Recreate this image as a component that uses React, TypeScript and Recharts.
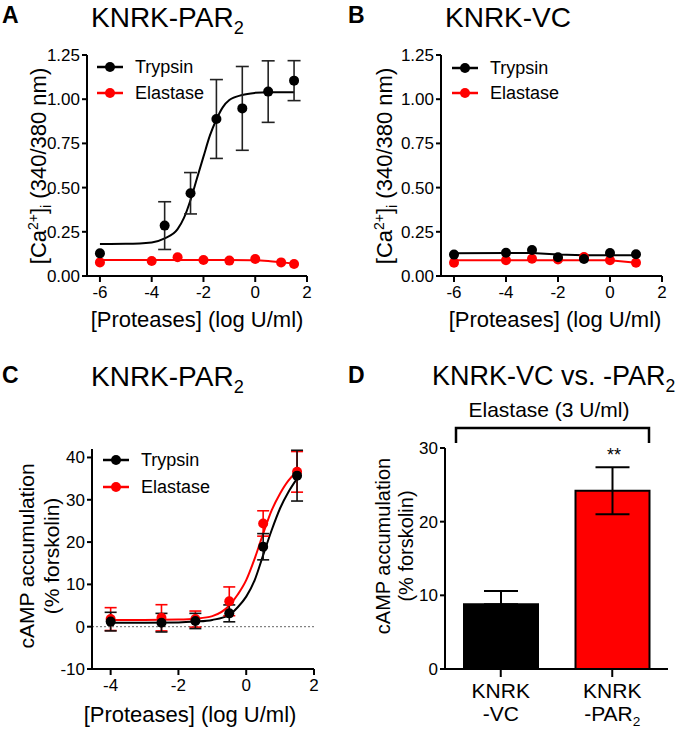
import React from "react";
import {
  ComposedChart,
  Line,
  Scatter,
  ErrorBar,
  XAxis,
  YAxis,
  ReferenceLine,
  BarChart,
  Bar,
  Cell,
} from "recharts";

const FONT = '"Liberation Sans", Arial, Helvetica, sans-serif';
const RED = "#ff0000";
const BLACK = "#000000";

const seriesNames = ["Trypsin", "Elastase"];

// A: KNRK-PAR2, [Ca2+]i
const aTrypDose = [-6, -3.5, -2.5, -1.5, -0.5, 0.5, 1.5];
const aTrypMean = [0.128, 0.285, 0.468, 0.888, 0.948, 1.043, 1.105];
const aTrypSem = [0, 0.135, 0.117, 0.223, 0.237, 0.174, 0.113];
const aElaDose = [-6, -4, -3, -2, -1, 0, 1, 1.5];
const aElaMean = [0.077, 0.085, 0.106, 0.09, 0.087, 0.096, 0.077, 0.068];
const aTrypFitX = [-6, -5, -4, -3.5, -3, -2.75, -2.5, -2.25, -2, -1.75, -1.5, -1.25, -1, -0.5, 0, 0.5, 1, 1.5];
const aTrypFitY = [0.181, 0.182, 0.19, 0.213, 0.265, 0.33, 0.43, 0.553, 0.675, 0.795, 0.885, 0.955, 0.995, 1.024, 1.036, 1.04, 1.04, 1.04];
const aElaFitX = [-6, -4, -2, -1, 0, 0.5, 1, 1.5];
const aElaFitY = [0.09, 0.09, 0.09, 0.09, 0.089, 0.085, 0.078, 0.07];

// B: KNRK-VC, [Ca2+]i
const bDose = [-6, -4, -3, -2, -1, 0, 1];
const bTrypMean = [0.121, 0.132, 0.147, 0.106, 0.096, 0.13, 0.123];
const bElaMean = [0.075, 0.089, 0.098, 0.094, 0.107, 0.089, 0.075];
const bTrypLine = [0.128, 0.13, 0.13, 0.121, 0.117, 0.117, 0.117];
const bElaLine = [0.089, 0.089, 0.089, 0.089, 0.089, 0.089, 0.075];

// C: KNRK-PAR2, cAMP
const cDose = [-4, -2.5, -1.5, -0.5, 0.5, 1.5];
const cTrypMean = [1.2, 0.95, 1.35, 3.15, 18.9, 35.7];
const cTrypSem = [2.2, 2.2, 1.8, 2.0, 3.1, 6.0];
const cElaMean = [1.8, 2.1, 1.8, 6.0, 24.4, 36.6];
const cElaSem = [2.7, 3.1, 1.9, 3.4, 3.0, 4.8];
const cFitX = [-4, -3, -2, -1.5, -1, -0.5, -0.25, 0, 0.25, 0.5, 0.75, 1, 1.25, 1.5];
const cTrypFit = [0.95, 0.95, 1.0, 1.2, 1.6, 2.8, 4.6, 7.1, 11, 16.9, 22.8, 28, 31.9, 35.0];
const cElaFit = [1.6, 1.6, 1.7, 1.9, 2.5, 5.0, 7.6, 11, 16.1, 22, 27.5, 31.5, 34.6, 36.6];

// D: KNRK-VC vs -PAR2, elastase 3 U/ml
const dCells = ["KNRK\n-VC", "KNRK\n-PAR2"];
const dMean = [8.8, 24.2];
const dErr = [[0, 1.8], [3.2, 3.2]];
const dColors = [BLACK, RED];

const caTicks = [0, 0.25, 0.5, 0.75, 1, 1.25];
const logTicksAB = [-6, -4, -2, 0, 2];
const logTicksC = [-4, -2, 0, 2];
const campTicksC = [-10, 0, 10, 20, 30, 40];
const campTicksD = [0, 10, 20, 30];

const zip = (xs: number[], ys: number[], es?: number[]) =>
  xs.map((x, i) => ({ x, y: ys[i], err: es ? es[i] : undefined }));

const axisLine = { stroke: BLACK, strokeWidth: 2 };
const tickStyle = { fill: BLACK, fontSize: 17, fontFamily: FONT };

const dotShape = (color: string) => (props: any) =>
  <circle cx={props.cx} cy={props.cy} r={5} fill={color} />;

const withSub = (s: string, size: number) => {
  const m = s.match(/^(.*PAR)2$/);
  if (!m) return s;
  return (
    <>
      {m[1]}
      <tspan dy={size * 0.25} fontSize={size * 0.65}>2</tspan>
    </>
  );
};

const BarTick = (props: any) => {
  const { x, y, payload } = props;
  const [l1, l2] = String(payload.value).split("\n");
  return (
    <g>
      <text x={x} y={y + 19} textAnchor="middle" fontSize={21} fontFamily={FONT} fill={BLACK}>
        {l1}
      </text>
      <text x={x} y={y + 42} textAnchor="middle" fontSize={21} fontFamily={FONT} fill={BLACK}>
        {withSub(l2, 21)}
      </text>
    </g>
  );
};

const LegendRow = ({ x, y, color, label }: { x: number; y: number; color: string; label: string }) => (
  <g>
    <line x1={x} x2={x + 26} y1={y} y2={y} stroke={color} strokeWidth={2.5} />
    <circle cx={x + 13} cy={y} r={5} fill={color} />
    <text x={x + 38} y={y} dominantBaseline="central" fontSize={18} fontFamily={FONT} fill={BLACK}>
      {label}
    </text>
  </g>
);

function CaPanel(props: {
  left: number;
  yWidth: number;
  width: number;
  tryp: any[];
  ela: any[];
  trypFit: any[];
  elaFit: any[];
  lineType: "monotone" | "linear";
}) {
  const { left, yWidth, width, tryp, ela, trypFit, elaFit, lineType } = props;
  return (
    <div style={{ position: "absolute", left, top: 0 }}>
      <ComposedChart width={width} height={310} margin={{ top: 55, right: 23, bottom: 0, left: 0 }}>
        <XAxis
          type="number"
          dataKey="x"
          domain={[-6.5, 2]}
          ticks={logTicksAB}
          allowDataOverflow
          height={34}
          axisLine={axisLine}
          tickLine={axisLine}
          tickSize={6}
          tickMargin={4}
          tick={tickStyle}
        />
        <YAxis
          type="number"
          dataKey="y"
          domain={[0, 1.25]}
          ticks={caTicks}
          allowDataOverflow
          width={yWidth}
          axisLine={axisLine}
          tickLine={axisLine}
          tickSize={5}
          tickMargin={2}
          tick={tickStyle}
          tickFormatter={(v: number) => v.toFixed(2)}
        />
        <Line data={elaFit} dataKey="y" type={lineType} stroke={RED} strokeWidth={2} dot={false} isAnimationActive={false} />
        <Line data={trypFit} dataKey="y" type={lineType} stroke={BLACK} strokeWidth={2} dot={false} isAnimationActive={false} />
        <Scatter data={ela} dataKey="y" shape={dotShape(RED)} isAnimationActive={false} />
        <Scatter data={tryp} dataKey="y" shape={dotShape(BLACK)} isAnimationActive={false}>
          <ErrorBar dataKey="err" direction="y" width={6.5} stroke="#222" strokeWidth={1.6} />
        </Scatter>
      </ComposedChart>
    </div>
  );
}

function CampPanel() {
  const tryp = zip(cDose, cTrypMean, cTrypSem);
  const ela = zip(cDose, cElaMean, cElaSem);
  return (
    <div style={{ position: "absolute", left: 0, top: 360 }}>
      <ComposedChart width={330} height={340} margin={{ top: 89, right: 16, bottom: 0, left: 0 }}>
        <XAxis
          type="number"
          dataKey="x"
          domain={[-4.55, 2]}
          ticks={logTicksC}
          allowDataOverflow
          height={31}
          axisLine={axisLine}
          tickLine={axisLine}
          tickSize={6}
          tickMargin={4}
          tick={tickStyle}
        />
        <YAxis
          type="number"
          dataKey="y"
          domain={[-10, 42]}
          ticks={campTicksC}
          allowDataOverflow
          width={92}
          axisLine={axisLine}
          tickLine={axisLine}
          tickSize={5}
          tickMargin={2}
          tick={tickStyle}
        />
        <ReferenceLine y={0} stroke="#666" strokeWidth={1} strokeDasharray="2 2" />
        <Line data={zip(cFitX, cElaFit)} dataKey="y" type="monotone" stroke={RED} strokeWidth={2} dot={false} isAnimationActive={false} />
        <Line data={zip(cFitX, cTrypFit)} dataKey="y" type="monotone" stroke={BLACK} strokeWidth={2} dot={false} isAnimationActive={false} />
        <Scatter data={ela} dataKey="y" shape={dotShape(RED)} isAnimationActive={false}>
          <ErrorBar dataKey="err" direction="y" width={6} stroke={RED} strokeWidth={1.6} />
        </Scatter>
        <Scatter data={tryp} dataKey="y" shape={dotShape(BLACK)} isAnimationActive={false}>
          <ErrorBar dataKey="err" direction="y" width={6} stroke="#111" strokeWidth={1.6} />
        </Scatter>
      </ComposedChart>
    </div>
  );
}

function BarPanel() {
  const data = dCells.map((name, i) => ({ name, value: dMean[i], err: dErr[i] }));
  return (
    <div style={{ position: "absolute", left: 345, top: 360 }}>
      <BarChart width={345} height={372} data={data} margin={{ top: 88, right: 22, bottom: 0, left: 0 }}>
        <XAxis
          dataKey="name"
          height={63}
          axisLine={axisLine}
          tickLine={axisLine}
          tickSize={8}
          tickMargin={2}
          tick={<BarTick />}
          interval={0}
        />
        <YAxis
          type="number"
          domain={[0, 30]}
          ticks={campTicksD}
          allowDataOverflow
          width={100}
          axisLine={axisLine}
          tickLine={axisLine}
          tickSize={5}
          tickMargin={2}
          tick={tickStyle}
        />
        <Bar dataKey="value" barSize={74} stroke={BLACK} strokeWidth={2} isAnimationActive={false}>
          {data.map((_, i) => (
            <Cell key={i} fill={dColors[i]} />
          ))}
          <ErrorBar dataKey="err" direction="y" width={17} stroke={BLACK} strokeWidth={2} />
        </Bar>
      </BarChart>
    </div>
  );
}

function Labels() {
  const t = { fontFamily: FONT, fill: BLACK };
  const xLabel = "[Proteases] (log U/ml)";
  return (
    <svg width={693} height={732} style={{ position: "absolute", left: 0, top: 0, pointerEvents: "none" }}>
      {/* panel letters & titles */}
      <text x={2} y={23} fontSize={23} fontWeight="bold" {...t}>A</text>
      <text x={91} y={27} fontSize={28} {...t}>{withSub("KNRK-PAR2", 28)}</text>
      <text x={348} y={23} fontSize={23} fontWeight="bold" {...t}>B</text>
      <text x={445} y={27} fontSize={28} {...t}>KNRK-VC</text>
      <text x={2} y={383} fontSize={23} fontWeight="bold" {...t}>C</text>
      <text x={91} y={386} fontSize={28} {...t}>{withSub("KNRK-PAR2", 28)}</text>
      <text x={348} y={383} fontSize={23} fontWeight="bold" {...t}>D</text>
      <text x={432} y={385} fontSize={27} {...t}>{withSub("KNRK-VC vs. -PAR2", 27)}</text>
      <text x={549} y={417} fontSize={21} textAnchor="middle" {...t}>Elastase (3 U/ml)</text>

      {/* y labels */}
      {[46, 392].map((bx) => (
        <text key={bx} transform={`translate(${bx},166) rotate(-90)`} textAnchor="middle" fontSize={22} {...t}>
          [Ca<tspan dy={-8} fontSize={14}>2+</tspan>
          <tspan dy={8}>]</tspan>
          <tspan dy={5} fontSize={14}>i</tspan>
          <tspan dy={-5}> (340/380 nm)</tspan>
        </text>
      ))}
      <text transform="translate(34,556) rotate(-90)" textAnchor="middle" fontSize={21} {...t}>cAMP accumulation</text>
      <text transform="translate(59,556) rotate(-90)" textAnchor="middle" fontSize={21} {...t}>(% forskolin)</text>
      <text transform="translate(390,546) rotate(-90)" textAnchor="middle" fontSize={20} {...t}>cAMP accumulation</text>
      <text transform="translate(413,546) rotate(-90)" textAnchor="middle" fontSize={20} {...t}>(% forskolin)</text>

      {/* x labels */}
      <text x={197} y={327} fontSize={22} textAnchor="middle" {...t}>{xLabel}</text>
      <text x={555} y={327} fontSize={22} textAnchor="middle" {...t}>{xLabel}</text>
      <text x={190} y={722} fontSize={22} textAnchor="middle" {...t}>{xLabel}</text>

      {/* legends */}
      <LegendRow x={97} y={67} color={BLACK} label={seriesNames[0]} />
      <LegendRow x={97} y={93} color={RED} label={seriesNames[1]} />
      <LegendRow x={452} y={68} color={BLACK} label={seriesNames[0]} />
      <LegendRow x={452} y={93} color={RED} label={seriesNames[1]} />
      <LegendRow x={103} y={460} color={BLACK} label={seriesNames[0]} />
      <LegendRow x={103} y={487} color={RED} label={seriesNames[1]} />

      {/* significance bracket */}
      <path d="M456 443 V428 H649 V443" fill="none" stroke={BLACK} strokeWidth={2.5} />
      <text x={614} y={461} fontSize={18} textAnchor="middle" {...t}>**</text>
    </svg>
  );
}

export default function App() {
  return (
    <div style={{ position: "absolute", left: 0, top: 0, width: 693, height: 732, background: "#fff", fontFamily: FONT }}>
      <CaPanel
        left={0}
        yWidth={87}
        width={330}
        tryp={zip(aTrypDose, aTrypMean, aTrypSem)}
        ela={zip(aElaDose, aElaMean)}
        trypFit={zip(aTrypFitX, aTrypFitY)}
        elaFit={zip(aElaFitX, aElaFitY)}
        lineType="monotone"
      />
      <CaPanel
        left={345}
        yWidth={96}
        width={340}
        tryp={zip(bDose, bTrypMean)}
        ela={zip(bDose, bElaMean)}
        trypFit={zip(bDose, bTrypLine)}
        elaFit={zip(bDose, bElaLine)}
        lineType="linear"
      />
      <CampPanel />
      <BarPanel />
      <Labels />
    </div>
  );
}
